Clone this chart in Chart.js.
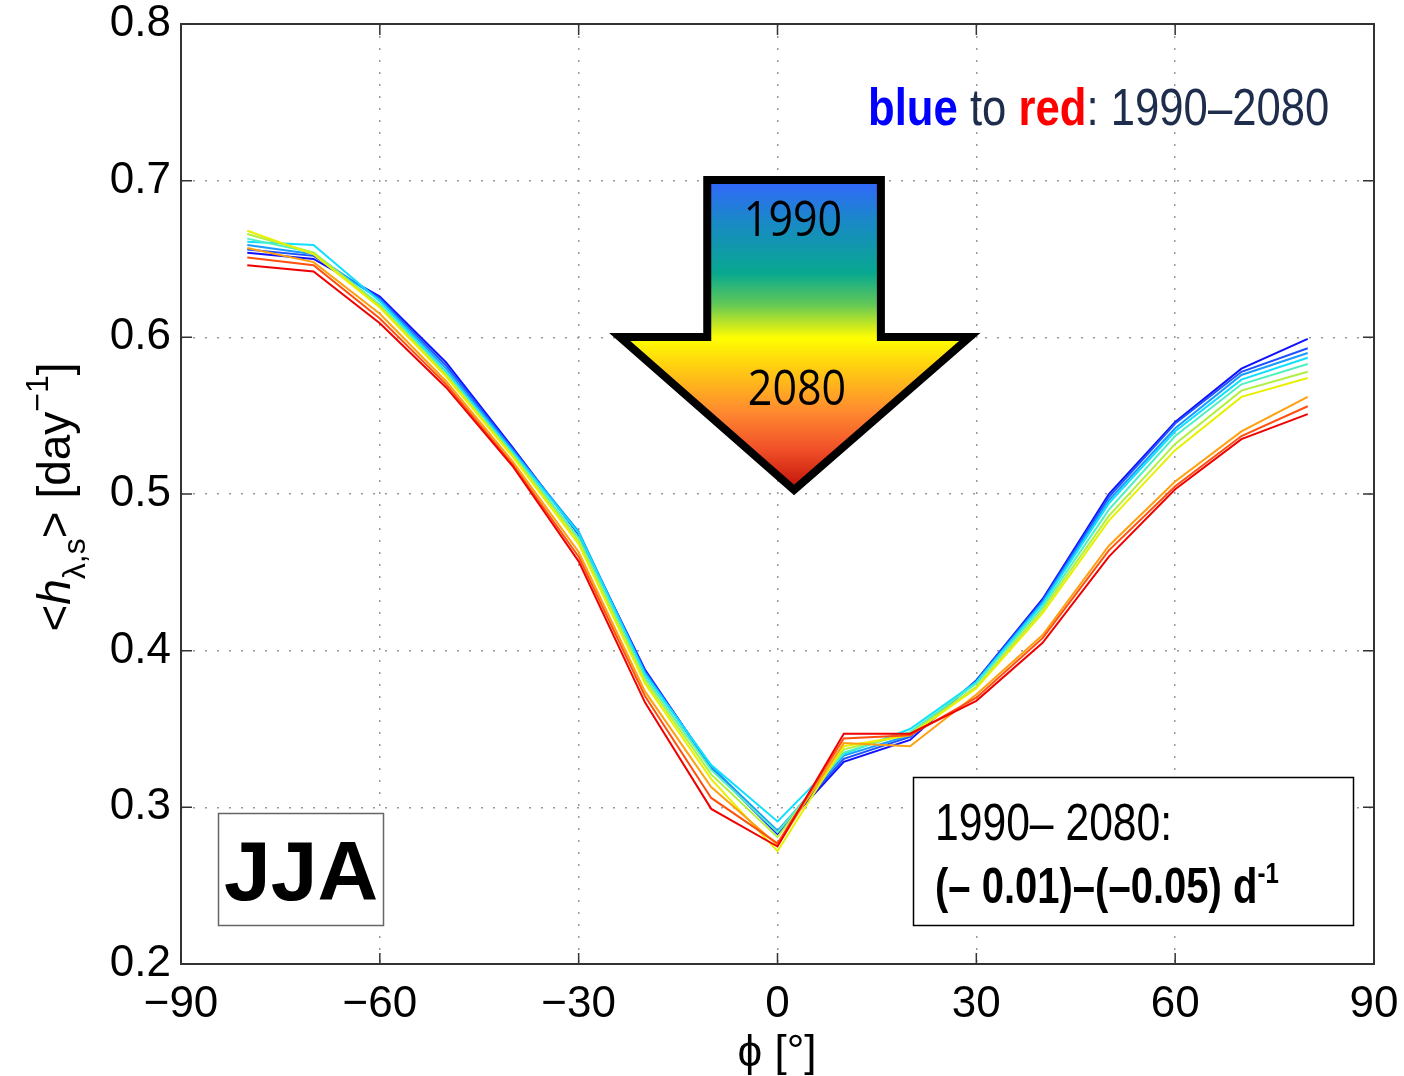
<!DOCTYPE html>
<html><head><meta charset="utf-8">
<script src="https://cdn.jsdelivr.net/npm/chart.js@4/dist/chart.umd.min.js"></script>
<style>html,body{margin:0;padding:0;background:#fff}#wrap{width:1404px;height:1076px}</style>
</head><body><div id="wrap"><canvas id="c" width="1404" height="1076"></canvas></div>
<script>
// ---- data ----
const latitudes = [-80,-70,-60,-50,-40,-30,-20,-10,0,10,20,30,40,50,60,70,80];
const years = [1990,2000,2010,2020,2030,2040,2050,2060,2070,2080];
const h1990 = [0.654,0.650,0.626,0.584,0.530,0.474,0.388,0.325,0.283,0.329,0.343,0.381,0.433,0.500,0.546,0.580,0.599];
const h2000 = [0.656,0.652,0.625,0.582,0.529,0.475,0.387,0.326,0.284,0.331,0.345,0.381,0.432,0.498,0.545,0.578,0.593];
const h2010 = [0.659,0.653,0.624,0.580,0.528,0.476,0.386,0.326,0.285,0.333,0.346,0.380,0.431,0.496,0.542,0.576,0.590];
const h2020 = [0.661,0.659,0.623,0.578,0.527,0.475,0.385,0.327,0.291,0.334,0.350,0.380,0.430,0.494,0.540,0.573,0.587];
const h2030 = [0.663,0.654,0.621,0.577,0.526,0.472,0.383,0.324,0.284,0.335,0.348,0.379,0.428,0.490,0.537,0.570,0.583];
const h2040 = [0.666,0.654,0.620,0.576,0.525,0.470,0.381,0.321,0.281,0.337,0.347,0.377,0.426,0.486,0.532,0.566,0.578];
const h2050 = [0.668,0.653,0.619,0.575,0.524,0.468,0.379,0.318,0.272,0.339,0.346,0.376,0.424,0.483,0.528,0.562,0.574];
const h2060 = [0.657,0.648,0.615,0.572,0.521,0.463,0.374,0.313,0.276,0.341,0.339,0.372,0.410,0.467,0.508,0.540,0.562];
const h2070 = [0.651,0.646,0.612,0.570,0.519,0.460,0.371,0.306,0.277,0.344,0.346,0.370,0.408,0.464,0.505,0.537,0.556];
const h2080 = [0.646,0.642,0.609,0.568,0.518,0.457,0.367,0.299,0.275,0.347,0.347,0.368,0.405,0.460,0.503,0.535,0.551];
const seriesValues = [h1990,h2000,h2010,h2020,h2030,h2040,h2050,h2060,h2070,h2080];
const seriesColors = ['#1010ff','#2050ff','#1a9cff','#10e0ff','#50f0c0','#b0f040','#e8f000','#ffa010','#ff5010','#f00000'];
const xTickValues = [-90,-60,-30,0,30,60,90];
const yTickValues = [0.2,0.3,0.4,0.5,0.6,0.7,0.8];

const AX_FONT = '"Liberation Sans", Arial, sans-serif';

const datasets = years.map((y,i)=>({
  label: String(y),
  data: latitudes.map((lat,j)=>({x:lat, y:seriesValues[i][j]})),
  borderColor: seriesColors[i],
  borderWidth: 2,
  pointRadius: 0,
  tension: 0,
  fill: false,
  order: years.length - i
}));

function drawRich(ctx, parts, x, y, align) {
  let total = 0;
  parts.forEach(p=>{ ctx.font = p.font; p.w = ctx.measureText(p.text).width * (p.sx||1); total += p.w; });
  let cx = align==='center' ? x - total/2 : x;
  parts.forEach(p=>{
    ctx.save();
    ctx.font = p.font; ctx.fillStyle = p.color || '#000';
    ctx.textAlign = 'left'; ctx.textBaseline = 'alphabetic';
    ctx.translate(cx, y + (p.dy||0));
    ctx.scale(p.sx||1, 1);
    ctx.fillText(p.text, 0, 0);
    ctx.restore();
    cx += p.w;
  });
}

const decor = {
  id:'decor',
  afterDraw(chart){
    const ctx = chart.ctx, a = chart.chartArea;
    const xs = chart.scales.x, ys = chart.scales.y;
    ctx.save();
    // frame
    ctx.strokeStyle = '#333'; ctx.lineWidth = 2;
    ctx.strokeRect(a.left, a.top, a.right-a.left, a.bottom-a.top);
    // inward ticks
    ctx.lineWidth = 1.5;
    xTickValues.forEach(v=>{
      const px = xs.getPixelForValue(v);
      ctx.beginPath(); ctx.moveTo(px,a.bottom); ctx.lineTo(px,a.bottom-11);
      ctx.moveTo(px,a.top); ctx.lineTo(px,a.top+11); ctx.stroke();
    });
    yTickValues.forEach(v=>{
      const py = ys.getPixelForValue(v);
      ctx.beginPath(); ctx.moveTo(a.left,py); ctx.lineTo(a.left+11,py);
      ctx.moveTo(a.right,py); ctx.lineTo(a.right-11,py); ctx.stroke();
    });

    // arrow
    const P = (x,y)=>[xs.getPixelForValue(x), ys.getPixelForValue(y)];
    const pts = [P(-10.6,0.7004),P(15.6,0.7004),P(15.6,0.6002),P(29.0,0.6002),P(2.5,0.5026),P(-23.8,0.6002),P(-10.6,0.6002)];
    const top = pts[0][1], bot = pts[4][1];
    const g = ctx.createLinearGradient(0,top,0,bot);
    g.addColorStop(0,'#3366ff'); g.addColorStop(0.13,'#1a88c8'); g.addColorStop(0.3,'#08a890');
    g.addColorStop(0.4,'#60c858'); g.addColorStop(0.47,'#c8e820'); g.addColorStop(0.51,'#ffff00');
    g.addColorStop(0.6,'#ffd010'); g.addColorStop(0.75,'#ff8830'); g.addColorStop(0.87,'#f05028'); g.addColorStop(1,'#c01008');
    ctx.beginPath(); pts.forEach((p,i)=> i? ctx.lineTo(p[0],p[1]) : ctx.moveTo(p[0],p[1])); ctx.closePath();
    ctx.fillStyle = g; ctx.fill();
    ctx.lineWidth = 8; ctx.lineJoin = 'miter'; ctx.strokeStyle = '#000'; ctx.stroke();
    drawRich(ctx,[{text:'1990',font:'50px "Open Sans", sans-serif',sx:0.86}],793,236,'center');
    drawRich(ctx,[{text:'2080',font:'50px "Open Sans", sans-serif',sx:0.86}],797,405,'center');

    // top-right legend text
    const nf = '52px "Liberation Sans", Arial, sans-serif', bf = 'bold 52px "Liberation Sans", Arial, sans-serif';
    const navy = '#1f2d4d';
    drawRich(ctx,[
      {text:'blue',font:bf,color:'#0000ff',sx:0.84},
      {text:' to ',font:nf,color:navy,sx:0.84},
      {text:'red',font:bf,color:'#ff0000',sx:0.84},
      {text:': 1990\u20132080',font:nf,color:navy,sx:0.84}
    ],868,125,'left');

    // JJA box
    ctx.fillStyle='#fff'; ctx.fillRect(218,813,165,112);
    ctx.strokeStyle='#666'; ctx.lineWidth=1.5; ctx.strokeRect(218.5,813.5,165,112);
    drawRich(ctx,[{text:'JJA',font:'bold 84px "Liberation Sans", Arial, sans-serif'}],301,900,'center');

    // trend box
    ctx.fillStyle='#fff'; ctx.fillRect(913,777,440,148);
    ctx.strokeStyle='#000'; ctx.lineWidth=1.5; ctx.strokeRect(913.5,777.5,440,148);
    drawRich(ctx,[{text:'1990\u2013 2080:',font:nf,sx:0.82}],935,840,'left');
    drawRich(ctx,[
      {text:'(\u2013 0.01)\u2013(\u20130.05) d',font:'bold 50px "Liberation Sans", Arial, sans-serif',sx:0.8},
      {text:'-1',font:'bold 30px "Liberation Sans", Arial, sans-serif',sx:0.8,dy:-20}
    ],935,903,'left');

    // x title
    drawRich(ctx,[{text:'\u03D5 [\u00B0]',font:'44px '+AX_FONT}],777,1066,'center');

    // y title (rotated)
    ctx.save();
    ctx.translate(70,497); ctx.rotate(-Math.PI/2);
    drawRich(ctx,[
      {text:'<',font:'46px '+AX_FONT},
      {text:'h',font:'italic 46px '+AX_FONT},
      {text:'\u03BB,s',font:'32px '+AX_FONT,dy:15},
      {text:'>',font:'46px '+AX_FONT},
      {text:' [day',font:'46px '+AX_FONT},
      {text:'\u22121',font:'32px '+AX_FONT,dy:-22},
      {text:']',font:'46px '+AX_FONT}
    ],0,0,'center');
    ctx.restore();
    ctx.restore();
  }
};

new Chart(document.getElementById('c'),{
  type:'line',
  data:{datasets},
  options:{
    responsive:false, animation:false, events:[],
    layout:{padding:{top:24,right:30,left:0,bottom:0}},
    plugins:{legend:{display:false},tooltip:{enabled:false}},
    scales:{
      x:{type:'linear',min:-90,max:90,
        afterBuildTicks(s){ s.ticks = xTickValues.map(v=>({value:v})); },
        afterFit(s){ s.height = 112; s.paddingLeft = 0; s.paddingRight = 0; },
        ticks:{autoSkip:false,maxRotation:0,padding:14,color:'#000',font:{family:AX_FONT,size:44},
          callback:(v)=>String(v).replace('-','\u2212')},
        grid:{color:'#999',lineWidth:1.5,drawTicks:false},
        border:{display:false,dash:[2,10]}
      },
      y:{type:'linear',min:0.2,max:0.8,
        afterBuildTicks(s){ s.ticks = yTickValues.map(v=>({value:v})); },
        afterFit(s){ s.width = 181; s.paddingTop = 0; s.paddingBottom = 0; },
        ticks:{autoSkip:false,padding:10,color:'#000',font:{family:AX_FONT,size:44},
          callback:(v)=>Number(v).toFixed(1)},
        grid:{color:'#999',lineWidth:1.5,drawTicks:false},
        border:{display:false,dash:[2,10]}
      }
    }
  },
  plugins:[decor]
});
</script></body></html>
